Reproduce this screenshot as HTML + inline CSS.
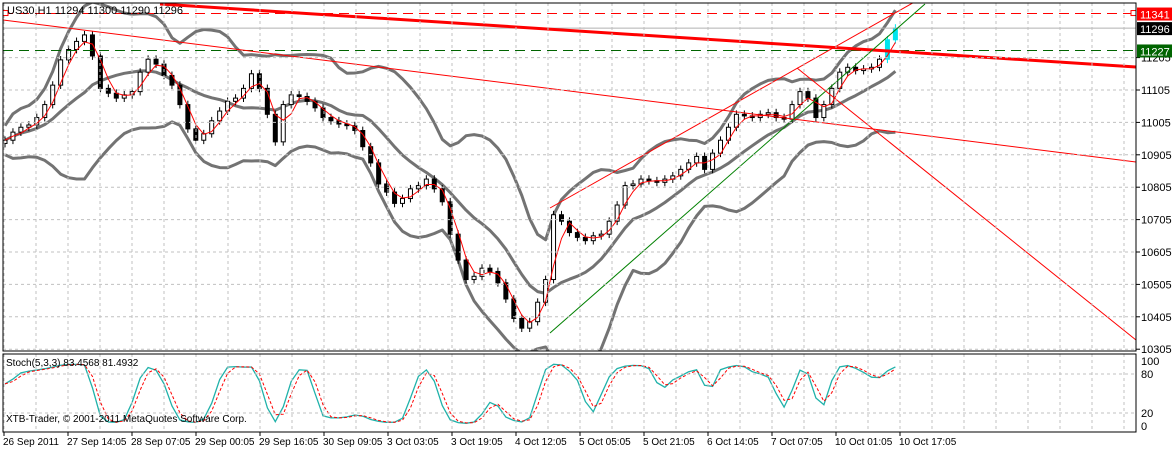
<!DOCTYPE html>
<html><head><meta charset="utf-8"><style>
body{margin:0;background:#fff;width:1173px;height:450px;overflow:hidden}
svg{display:block;font-family:"Liberation Sans",Arial,sans-serif}
</style></head><body>
<svg id="c" width="1173" height="450" xmlns="http://www.w3.org/2000/svg"><defs><clipPath id="mc"><rect x="3" y="3" width="1133" height="348"/></clipPath><clipPath id="sc"><rect x="3" y="354" width="1133" height="78"/></clipPath></defs></svg>
<script>
const closes=[10950,10975,10990,10997,11020,11060,11120,11198,11230,11255,11275,11210,11110,11095,11080,11090,11100,11160,11200,11185,11150,11120,11060,10985,10950,10970,11010,11040,11070,11080,11110,11155,11110,11030,10945,11060,11090,11085,11070,11050,11020,11010,11000,10995,10980,10930,10880,10815,10790,10755,10770,10800,10810,10830,10800,10760,10660,10580,10520,10530,10555,10545,10510,10460,10400,10370,10390,10450,10520,10720,10700,10665,10650,10640,10655,10660,10700,10750,10810,10815,10830,10825,10820,10830,10840,10860,10880,10900,10860,10910,10950,10990,11030,11025,11020,11030,11035,11020,11015,11060,11100,11080,11020,11060,11110,11160,11175,11165,11170,11175,11200,11260,11296];
const priceTicks=[11205,11105,11005,10905,10805,10705,10605,10505,10405,10305];
const stochTicks=[100,80,20,0];
const dateLabels=["26 Sep 2011","27 Sep 14:05","28 Sep 07:05","29 Sep 00:05","29 Sep 16:05","30 Sep 09:05","3 Oct 03:05","3 Oct 19:05","4 Oct 12:05","5 Oct 05:05","5 Oct 21:05","6 Oct 14:05","7 Oct 07:05","10 Oct 01:05","10 Oct 17:05"];
const levels={ask:11341,last:11296,green:11227};

const S=document.getElementById('c'),NS='http://www.w3.org/2000/svg';
function el(t,a,p){const e=document.createElementNS(NS,t);for(const k in a)e.setAttribute(k,a[k]);(p||S).appendChild(e);return e;}
const L=3,R=1136,T=3,B=351,ST=354,SB=432;
const y=p=>90-(p-11105)*0.324;
const x=i=>5+i*7.95;
const sy=v=>426-v*0.65;
const MG=el('g',{'clip-path':'url(#mc)'});
const SG=el('g',{'clip-path':'url(#sc)'});
for(let gx=4;gx<R;gx+=32){el('line',{x1:gx,y1:T,x2:gx,y2:B,stroke:'#c0c0c0','stroke-dasharray':'3,3'});el('line',{x1:gx,y1:ST,x2:gx,y2:SB,stroke:'#c0c0c0','stroke-dasharray':'3,3'});}
priceTicks.forEach(p=>{el('line',{x1:L,y1:y(p),x2:R,y2:y(p),stroke:'#c0c0c0','stroke-dasharray':'3,3'});
 const t=el('text',{x:1141,y:y(p)+4,'font-size':11,fill:'#000'});t.textContent=p;
 
 
 el('line',{x1:R,y1:y(p),x2:R+4,y2:y(p),stroke:'#000'});});
[80,20].forEach(v=>el('line',{x1:L,y1:sy(v),x2:R,y2:sy(v),stroke:'#c0c0c0','stroke-dasharray':'3,3'}));
stochTicks.forEach(v=>{const t=el('text',{x:1141,y:sy(v)+4,'font-size':11,fill:'#000'});t.textContent=v;
 
 });
const n=closes.length;
const opens=closes.map((c,i)=>i?closes[i-1]:c-10);
const highs=closes.map((c,i)=>Math.max(c,opens[i])+12);
const lows=closes.map((c,i)=>Math.min(c,opens[i])-12);
function sma(a,p,i){let s=0,k=0;for(let j=Math.max(0,i-p+1);j<=i;j++){s+=a[j];k++;}return s/k;}
const P=11,mid=[],up=[],dn=[],ma=[];
for(let i=0;i<n;i++){const m=sma(closes,P,i);let v=0,k=0;for(let j=Math.max(0,i-P+1);j<=i;j++){v+=(closes[j]-m)**2;k++;}const sd=Math.sqrt(v/k);mid.push(m);up.push(m+1.9*sd+45);dn.push(m-1.9*sd-45);ma.push(sma(closes,3,i));}
const pl=a=>a.map((v,i)=>x(i).toFixed(1)+','+y(v).toFixed(1)).join(' ');
[[up,'bb-upper'],[mid,'bb-middle'],[dn,'bb-lower']].forEach(([a,nm])=>{const e=el('polyline',{points:pl(a),fill:'none',stroke:'#737373','stroke-width':3,'stroke-linejoin':'round'},MG);});
for(let i=0;i<n;i++){const cx=x(i),last=i>=n-2;const col=last?'#00e5ee':'#000';
 const c=el('line',{x1:cx,y1:y(highs[i]),x2:cx,y2:y(lows[i]),stroke:col},MG);
 
 
 const bull=closes[i]>=opens[i];const top=y(Math.max(opens[i],closes[i])),h=Math.max(1,Math.abs(y(opens[i])-y(closes[i])));
 const r=el('rect',{x:cx-2,y:top,width:4,height:h,fill:last?'#00e5ee':(bull?'#fff':'#000'),stroke:col},MG);
 
 }
{const e=el('polyline',{points:pl(ma),fill:'none',stroke:'#f00','stroke-width':1},MG);}
function ln(x1,y1,x2,y2,st,w,nm,da){const e=el('line',{x1,y1,x2,y2,stroke:st,'stroke-width':w},MG);if(da)e.setAttribute('stroke-dasharray',da);}
ln(L,y(levels.ask),1131,y(levels.ask),'#f00',1,'ask-level-line','10,6');
ln(L,y(levels.last),R,y(levels.last),'#b0b0b0',1,'last-price-line');
ln(L,y(levels.green),R,y(levels.green),'#006400',1,'support-level-line','10,6');
ln(160,4,R,67,'#f00',3,'main-trendline');
ln(L,20,R,162,'#f00',1,'long-trendline');
ln(550,208,918,0,'#f00',1,'upper-channel');
ln(550,333,925,4,'#008000',1,'lower-channel');
ln(797,68,R,340,'#f00',1,'descending-line');
el('rect',{x:1131,y:y(levels.ask)-3,width:5,height:5,fill:'#fff',stroke:'#f00'});
el('rect',{x:3,y:y(levels.ask)-3,width:5,height:5,fill:'#fff',stroke:'#f00'});
const K=[];
for(let i=0;i<n;i++){let hh=-1e9,ll=1e9;for(let j=Math.max(0,i-3);j<=i;j++){hh=Math.max(hh,highs[j]);ll=Math.min(ll,lows[j]);}K.push(100*(closes[i]-ll)/(hh-ll||1));}
const Ks=K.map((v,i)=>sma(K,2,i));const Ds=Ks.map((v,i)=>sma(Ks,2,i));
const spl=a=>a.map((v,i)=>x(i).toFixed(1)+','+sy(v).toFixed(1)).join(' ');
{const e=el('polyline',{points:spl(Ks),fill:'none',stroke:'#20b2aa','stroke-width':1.3},SG);}
{const e=el('polyline',{points:spl(Ds),fill:'none',stroke:'#f00','stroke-dasharray':'3,2'},SG);}
el('rect',{x:L,y:T,width:R-L,height:B-T,fill:'none',stroke:'#000'});
el('rect',{x:L,y:ST,width:R-L,height:SB-ST,fill:'none',stroke:'#000'});
[[levels.ask,'#f00','#fff','ask-price-tag'],[levels.last,'#000','#fff','last-price-tag'],[levels.green,'#006400','#fff','level-price-tag']].forEach(([p,bg,fg,nm])=>{
 const r=el('rect',{x:R+1,y:y(p)-6,width:35,height:13,fill:bg});
 const t=el('text',{x:R+4,y:y(p)+5,'font-size':11,fill:fg});t.textContent=p;});
function tx(s,xx,yy,nm,sz){const t=el('text',{x:xx,y:yy,'font-size':sz||10,fill:'#000'});t.textContent=s;}
tx('US30,H1  11294 11300 11290 11296',7,14,'chart-title',11);
tx('Stoch(5,3,3) 83.4568 81.4932',6,366,'stoch-title',10);
tx('XTB-Trader, © 2001-2011 MetaQuotes Software Corp.',6,422,'copyright',10);
dateLabels.forEach((d,i)=>{tx(d,3+i*64,445,'date-label',10);el('line',{x1:4+i*64,y1:SB,x2:4+i*64,y2:SB+4,stroke:'#000'});});
</script>
</body></html>
